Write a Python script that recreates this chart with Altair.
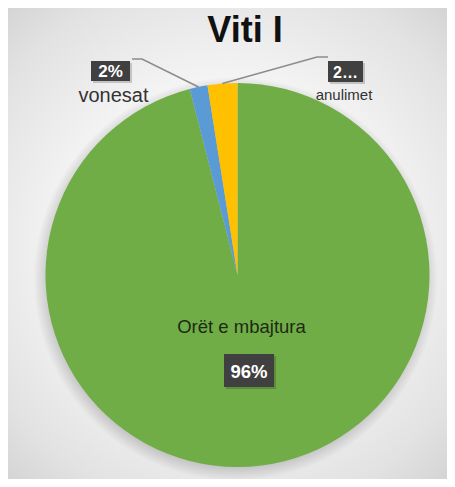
import math
import pandas as pd
import altair as alt

# ---------------- data ----------------
title_text = "Viti I"
categories = ["Orët e mbajtura", "vonesat", "anulimet"]
values = [96.0, 1.5, 2.5]
pct_labels = ["96%", "2%", "2…"]
colors = ["#70AD47", "#5B9BD5", "#FFC000"]

# ---------------- layout ----------------
W, H = 439, 471
CX, CY, R = 229.5, 267, 192
FONT = "Liberation Sans"

# label boxes (x1, x2, y1, y2), label font sizes, name positions, leader elbows
layout = {
    "Orët e mbajtura": dict(box=(216, 266, 346, 379), box_fs=18.5, name=(233.5, 325), name_fs=18.5,
                            name_color="#1c2b12", elbow=None),
    "vonesat": dict(box=(83, 122, 53, 73), box_fs=17, name=(105.5, 94), name_fs=20,
                    name_color="#333333", elbow=[(124, 51), (134, 51)]),
    "anulimet": dict(box=(320, 355, 53, 74), box_fs=16, name=(336, 92), name_fs=15,
                     name_color="#333333", elbow=[(320, 49), (309, 49)]),
}

pie_df = pd.DataFrame({"cat": categories, "val": values, "ord": list(range(len(values)))})

# derived tables
total = sum(values)
cum = 0.0
box_rows, pct_rows, name_rows, line_rows = [], [], [], []
for cat, v, lab in zip(categories, values, pct_labels):
    mid = 2 * math.pi * (cum + v / 2) / total
    cum += v
    L = layout[cat]
    x1, x2, y1, y2 = L["box"]
    box_rows.append(dict(x=x1, x2=x2, y=y1, y2=y2, sx=x1 + 2, sx2=x2 + 2, sy=y1 + 2, sy2=y2 + 2))
    pct_rows.append(dict(x=(x1 + x2) / 2, y=(y1 + y2) / 2 + 1, t=lab, fs=L["box_fs"]))
    name_rows.append(dict(x=L["name"][0], y=L["name"][1], t=cat, fs=L["name_fs"], c=L["name_color"]))
    if L["elbow"]:
        pts = L["elbow"] + [(CX + R * math.sin(mid), CY - R * math.cos(mid))]
        for i, (px, py) in enumerate(pts):
            line_rows.append(dict(cat=cat, i=i, x=px, y=py))

box_df = pd.DataFrame(box_rows)
pct_df = pd.DataFrame(pct_rows)
name_df = pd.DataFrame(name_rows)
line_df = pd.DataFrame(line_rows)

sx = alt.Scale(domain=[0, W], range=[0, W])
sy = alt.Scale(domain=[0, H], range=[0, H])
X = lambda f: alt.X(f"{f}:Q", scale=sx, axis=None)
Y = lambda f: alt.Y(f"{f}:Q", scale=sy, axis=None)

one = alt.Data(values=[{"a": 1}])

background = alt.Chart(one).mark_rect(
    fill={
        "gradient": "radial",
        "x1": 0.5, "y1": 0.5, "r1": 0,
        "x2": 0.5, "y2": 0.5, "r2": 0.72,
        "stops": [
            {"offset": 0, "color": "#ffffff"},
            {"offset": 0.45, "color": "#f6f6f6"},
            {"offset": 0.8, "color": "#e2e2e2"},
            {"offset": 1, "color": "#d0d0d0"},
        ],
    }
).encode(x=alt.value(0), x2=alt.value(W), y=alt.value(0), y2=alt.value(H))

shadow = alt.Chart(one).mark_arc(
    theta=0, theta2=2 * math.pi, outerRadius=202,
    fill={
        "gradient": "radial",
        "x1": 0.5, "y1": 0.5, "r1": 0,
        "x2": 0.5, "y2": 0.5, "r2": 0.5,
        "stops": [
            {"offset": 0, "color": "rgba(90,90,90,0.35)"},
            {"offset": 0.92, "color": "rgba(90,90,90,0.30)"},
            {"offset": 1, "color": "rgba(90,90,90,0)"},
        ],
    },
).encode(x=alt.value(CX - 2), y=alt.value(CY + 4))

pie = alt.Chart(pie_df).mark_arc(outerRadius=R).encode(
    theta=alt.Theta("val:Q", stack=True),
    order=alt.Order("ord:Q"),
    color=alt.Color("cat:N", scale=alt.Scale(domain=categories, range=colors), legend=None),
    x=alt.value(CX),
    y=alt.value(CY),
)

leaders = alt.Chart(line_df).mark_line(color="#8c8c8c", strokeWidth=1.5).encode(
    x=X("x"), y=Y("y"), detail="cat:N", order="i:Q"
)

box_shadow = alt.Chart(box_df).mark_rect(color="#000000", opacity=0.18).encode(
    x=X("sx"), x2="sx2", y=Y("sy"), y2="sy2"
)
boxes = alt.Chart(box_df).mark_rect(color="#404040").encode(
    x=X("x"), x2="x2", y=Y("y"), y2="y2"
)

pct_text = alt.Chart(pct_df).mark_text(
    font=FONT, fontWeight="bold", color="#ffffff", baseline="middle", align="center"
).encode(x=X("x"), y=Y("y"), text="t:N", size=alt.Size("fs:Q", scale=None))

name_text = alt.Chart(name_df).mark_text(
    font=FONT, baseline="alphabetic", align="center"
).encode(x=X("x"), y=Y("y"), text="t:N", size=alt.Size("fs:Q", scale=None),
         color=alt.Color("c:N", scale=None))

title = alt.Chart(one).mark_text(
    text=title_text, font=FONT, fontSize=36, fontWeight="bold", color="#111111",
    baseline="alphabetic", align="center"
).encode(x=alt.value(237), y=alt.value(34))

chart = alt.layer(
    background, shadow, pie, leaders, box_shadow, boxes, pct_text, name_text, title
).properties(
    width=W, height=H, padding=0, autosize=alt.AutoSizeParams(type="none")
).configure_view(stroke=None)

chart.save("out.html", embed_options={"renderer": "svg", "actions": False})
